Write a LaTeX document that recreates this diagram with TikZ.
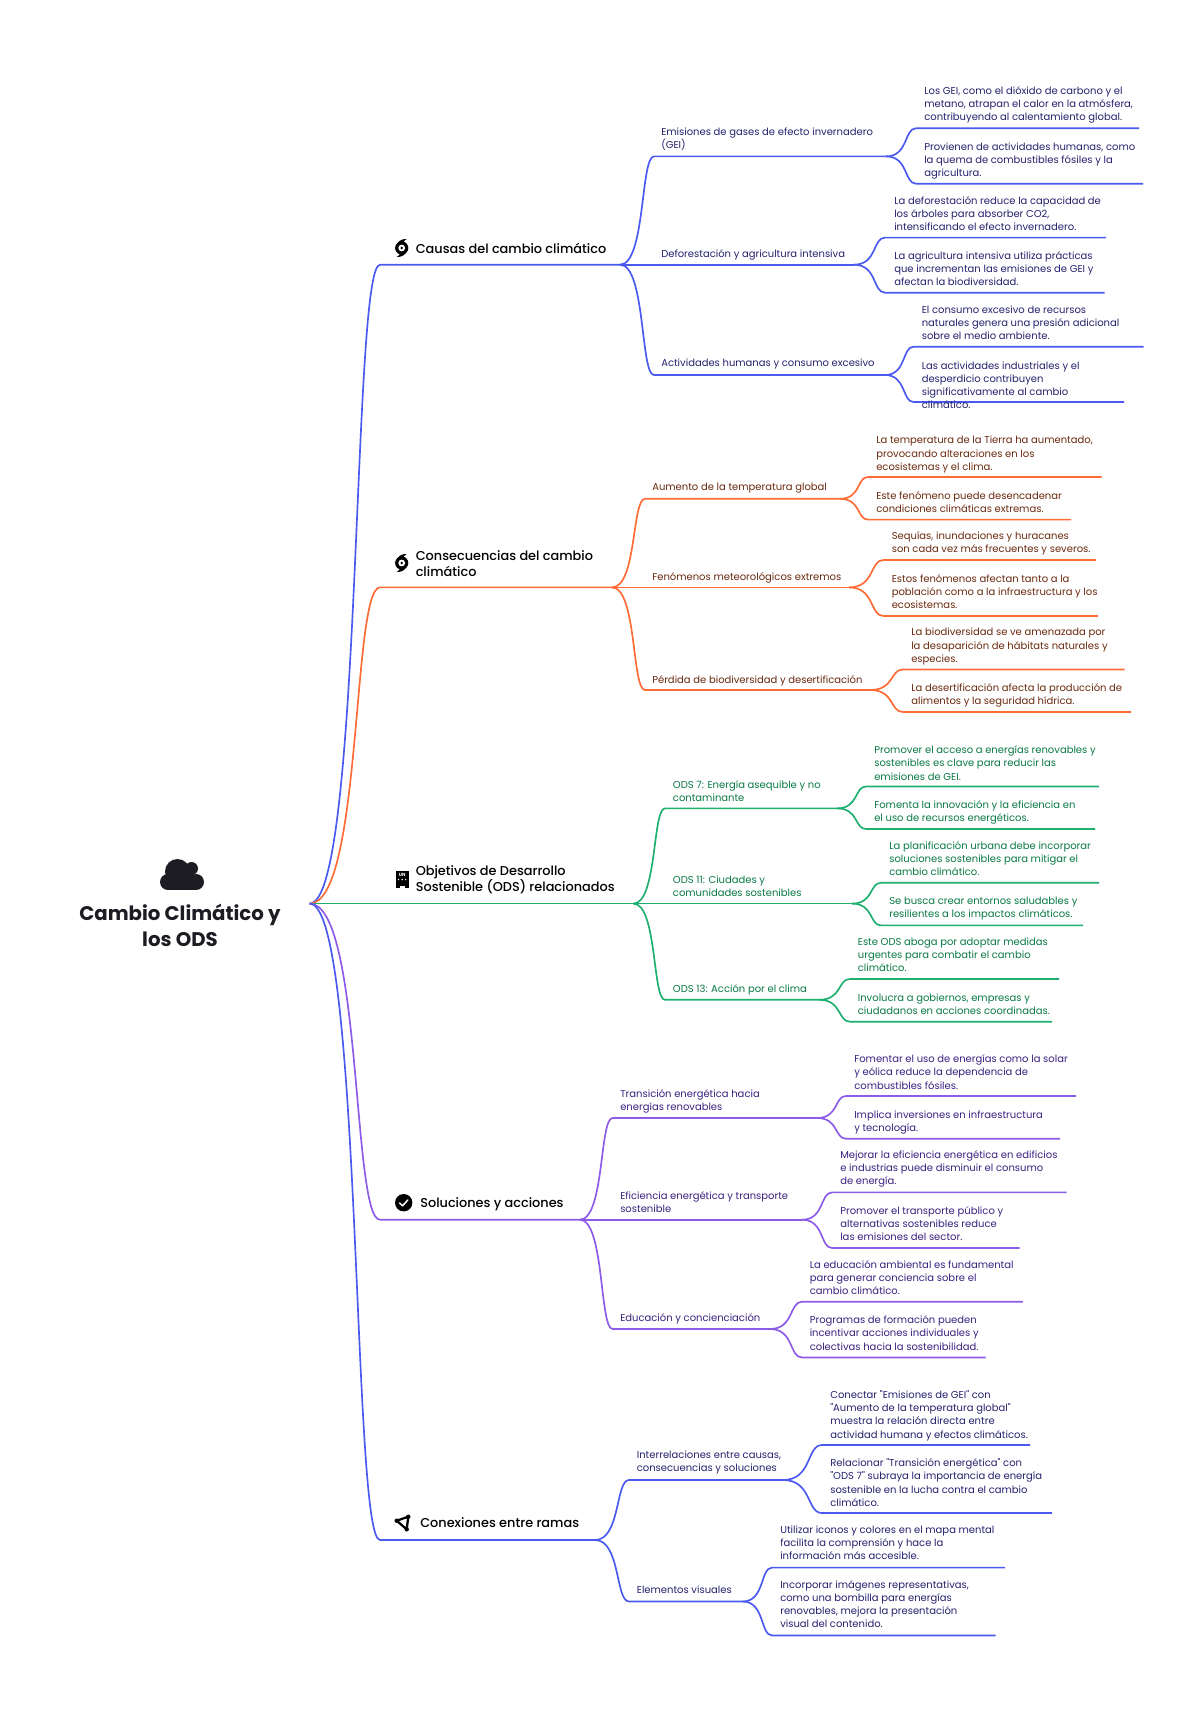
\documentclass[tikz,border=0pt]{standalone}
\usepackage{fontspec}
\usepackage{tikz}
\setmainfont{Poppins}[Ligatures=TeXOff]
\newfontfamily\headfont{Poppins Medium}
\definecolor{bline}{HTML}{4A5AF0}
\definecolor{oline}{HTML}{FF6B35}
\definecolor{gline}{HTML}{1FB070}
\definecolor{pline}{HTML}{8C5CE8}
\definecolor{btext}{HTML}{26226E}
\definecolor{otext}{HTML}{6B2A10}
\definecolor{gtext}{HTML}{0A7A45}
\definecolor{ptext}{HTML}{3A2280}
\definecolor{inkdark}{HTML}{1C1C22}
\usetikzlibrary{calc}
\tikzset{
  limb/.style={to path={.. controls ($(\tikztostart)!0.75!(\tikztotarget |- \tikztostart)$) and ($(\tikztotarget)!0.4!(\tikztostart |- \tikztotarget)$) .. (\tikztotarget)}},
  wire/.style={line width=1.25pt},
  leaf/.style={anchor=west,inner sep=0pt,align=left,font=\fontsize{7.5}{9.85}\selectfont},
  head/.style={anchor=west,inner sep=0pt,align=left,text=black,font=\headfont\fontsize{9.65}{12.3}\selectfont},
  icon/.style={fill=black,draw=none}
}
\newcommand{\hurricane}[1]{
  \begin{scope}[shift={(#1)}]
    \fill[icon] (0,0) circle (6.6);
    \fill[icon] (-4,-5) .. controls (-2,-8) and (1,-9) .. (5,-9) .. controls (2,-7) and (1,-6) .. (3,-3) -- cycle;
    \fill[icon] (4,5) .. controls (2,8) and (-1,9) .. (-5,9) .. controls (-2,7) and (-1,6) .. (-3,3) -- cycle;
    \fill[white] (0,0) circle (3.4);
    \fill[icon] (0,0) circle (1.3);
  \end{scope}
}
\begin{document}
\begin{tikzpicture}[x=0.75pt,y=-0.75pt]
  \useasboundingbox[fill=white] (0,0) rectangle (1200,1715);

  % centre
  \coordinate (root) at (309.6,903.6);
  \fill[inkdark] (177.5,871.5) circle (12.5);
  \fill[inkdark] (191.5,868.5) circle (6.5);
  \fill[inkdark] (168,882) circle (8);
  \fill[inkdark] (196,882) circle (8);
  \fill[inkdark] (168,878) rectangle (196,890);
  \fill[inkdark] (180,870) rectangle (194,882);
  \node[anchor=center,inner sep=0pt,align=center,text=inkdark,font=\fontsize{14.8}{19}\selectfont\bfseries] (title) at (180,925.5) {Cambio Climático y\\los ODS};

  % causas
  \coordinate (cau) at (380,264.7);
  \coordinate (cauOut) at (620,264.7);
  \draw[wire,bline] (root) to[limb] (cau) -- (cauOut);
  \hurricane{401.7,248}
  \node[head] (cauT) at (415.5,248) {Causas del cambio climático};

  \coordinate (emi) at (654,156.4); \coordinate (emiOut) at (886,156.4);
  \draw[wire,bline] (cauOut) to[limb] (emi) -- (emiOut);
  \node[leaf,text=btext] (emiT) at (661,139) {Emisiones de gases de efecto invernadero\\(GEI)};
  \coordinate (emiA) at (916,128.3); \coordinate (emiAe) at (1139,128.3);
  \draw[wire,bline] (emiOut) to[limb] (emiA) -- (emiAe);
  \node[leaf,text=btext] (emiAt) at (924,105) {Los GEI, como el dióxido de carbono y el\\metano, atrapan el calor en la atmósfera,\\contribuyendo al calentamiento global.};
  \coordinate (emiB) at (916,183.7); \coordinate (emiBe) at (1143,183.7);
  \draw[wire,bline] (emiOut) to[limb] (emiB) -- (emiBe);
  \node[leaf,text=btext] (emiBt) at (924,160.7) {Provienen de actividades humanas, como\\la quema de combustibles fósiles y la\\agricultura.};

  \coordinate (def) at (654,264.7); \coordinate (defOut) at (854,264.7);
  \draw[wire,bline] (cauOut) -- (def) -- (defOut);
  \node[leaf,text=btext] (defT) at (661,254.5) {Deforestación y agricultura intensiva};
  \coordinate (defA) at (885,237.6); \coordinate (defAe) at (1106,237.6);
  \draw[wire,bline] (defOut) to[limb] (defA) -- (defAe);
  \node[leaf,text=btext] (defAt) at (894,213.3) {La deforestación reduce la capacidad de\\los árboles para absorber CO2,\\intensificando el efecto invernadero.};
  \coordinate (defB) at (885,292.7); \coordinate (defBe) at (1104.5,292.7);
  \draw[wire,bline] (defOut) to[limb] (defB) -- (defBe);
  \node[leaf,text=btext] (defBt) at (894,269) {La agricultura intensiva utiliza prácticas\\que incrementan las emisiones de GEI y\\afectan la biodiversidad.};

  \coordinate (act) at (654,375); \coordinate (actOut) at (885,375);
  \draw[wire,bline] (cauOut) to[limb] (act) -- (actOut);
  \node[leaf,text=btext] (actT) at (661,364) {Actividades humanas y consumo excesivo};
  \coordinate (actA) at (913.5,346.7); \coordinate (actAe) at (1143.5,346.7);
  \draw[wire,bline] (actOut) to[limb] (actA) -- (actAe);
  \node[leaf,text=btext] (actAt) at (921.5,322.7) {El consumo excesivo de recursos\\naturales genera una presión adicional\\sobre el medio ambiente.};
  \coordinate (actB) at (913.5,402); \coordinate (actBe) at (1124,402);
  \draw[wire,bline] (actOut) to[limb] (actB) -- (actBe);
  \node[leaf,text=btext] (actBt) at (921.5,385) {Las actividades industriales y el\\desperdicio contribuyen\\significativamente al cambio\\climático.};

  % consecuencias
  \coordinate (con) at (380,587.4);
  \coordinate (conOut) at (612,587.4);
  \draw[wire,oline] (root) to[limb] (con) -- (conOut);
  \hurricane{401.7,563}
  \node[head] (conT) at (415.5,563.8) {Consecuencias del cambio\\climático};

  \coordinate (aum) at (645,498.8); \coordinate (aumOut) at (840,498.8);
  \draw[wire,oline] (conOut) to[limb] (aum) -- (aumOut);
  \node[leaf,text=otext] (aumT) at (652,488.5) {Aumento de la temperatura global};
  \coordinate (aumA) at (868,477); \coordinate (aumAe) at (1101.6,477);
  \draw[wire,oline] (aumOut) to[limb] (aumA) -- (aumAe);
  \node[leaf,text=otext] (aumAt) at (876,454.5) {La temperatura de la Tierra ha aumentado,\\provocando alteraciones en los\\ecosistemas y el clima.};
  \coordinate (aumB) at (868,519.6); \coordinate (aumBe) at (1071,519.6);
  \draw[wire,oline] (aumOut) to[limb] (aumB) -- (aumBe);
  \node[leaf,text=otext] (aumBt) at (876,502.5) {Este fenómeno puede desencadenar\\condiciones climáticas extremas.};

  \coordinate (fen) at (645,587.4); \coordinate (fenOut) at (849,587.4);
  \draw[wire,oline] (conOut) -- (fen) -- (fenOut);
  \node[leaf,text=otext] (fenT) at (652,577.5) {Fenómenos meteorológicos extremos};
  \coordinate (fenA) at (883.5,560); \coordinate (fenAe) at (1096,560);
  \draw[wire,oline] (fenOut) to[limb] (fenA) -- (fenAe);
  \node[leaf,text=otext] (fenAt) at (891.5,543) {Sequías, inundaciones y huracanes\\son cada vez más frecuentes y severos.};
  \coordinate (fenB) at (883.5,616); \coordinate (fenBe) at (1098,616);
  \draw[wire,oline] (fenOut) to[limb] (fenB) -- (fenBe);
  \node[leaf,text=otext] (fenBt) at (891.5,591.5) {Estos fenómenos afectan tanto a la\\población como a la infraestructura y los\\ecosistemas.};

  \coordinate (per) at (645,690); \coordinate (perOut) at (870,690);
  \draw[wire,oline] (conOut) to[limb] (per) -- (perOut);
  \node[leaf,text=otext] (perT) at (652,680.5) {Pérdida de biodiversidad y desertificación};
  \coordinate (perA) at (903,669.5); \coordinate (perAe) at (1124.5,669.5);
  \draw[wire,oline] (perOut) to[limb] (perA) -- (perAe);
  \node[leaf,text=otext] (perAt) at (911,646.5) {La biodiversidad se ve amenazada por\\la desaparición de hábitats naturales y\\especies.};
  \coordinate (perB) at (903,712); \coordinate (perBe) at (1131,712);
  \draw[wire,oline] (perOut) to[limb] (perB) -- (perBe);
  \node[leaf,text=otext] (perBt) at (911,695.5) {La desertificación afecta la producción de\\alimentos y la seguridad hídrica.};

  % objetivos
  \coordinate (obj) at (633.4,903.6);
  \draw[wire,gline] (root) -- (obj);
  \fill[icon] (395.6,870.7) rectangle (408.6,885.5);
  \fill[icon] (395.6,885.5) rectangle (399.6,888.3);
  \fill[icon] (404.6,885.5) rectangle (408.6,888.3);
  \node[anchor=center,inner sep=0pt,text=white,font=\fontsize{3.4}{4}\selectfont\bfseries] (objU) at (402.1,875) {UN};
  \foreach \wx in {398.5,402.1,405.7} {\fill[white] (\wx,879.6) circle (0.8);}
  \node[head] (objT) at (415.5,880) {Objetivos de Desarrollo\\Sostenible (ODS) relacionados};

  \coordinate (ods7) at (665,808.4); \coordinate (ods7Out) at (837,808.4);
  \draw[wire,gline] (obj) to[limb] (ods7) -- (ods7Out);
  \node[leaf,text=gtext] (ods7T) at (672.7,791) {ODS 7: Energía asequible y no\\contaminante};
  \coordinate (ods7A) at (866,786.5); \coordinate (ods7Ae) at (1099,786.5);
  \draw[wire,gline] (ods7Out) to[limb] (ods7A) -- (ods7Ae);
  \node[leaf,text=gtext] (ods7At) at (874,763) {Promover el acceso a energías renovables y\\sostenibles es clave para reducir las\\emisiones de GEI.};
  \coordinate (ods7B) at (866,829); \coordinate (ods7Be) at (1095,829);
  \draw[wire,gline] (ods7Out) to[limb] (ods7B) -- (ods7Be);
  \node[leaf,text=gtext] (ods7Bt) at (874,812) {Fomenta la innovación y la eficiencia en\\el uso de recursos energéticos.};

  \coordinate (ods11) at (665,903.6); \coordinate (ods11Out) at (852,903.6);
  \draw[wire,gline] (obj) -- (ods11) -- (ods11Out);
  \node[leaf,text=gtext] (ods11T) at (672.7,886.5) {ODS 11: Ciudades y\\comunidades sostenibles};
  \coordinate (ods11A) at (881,882.8); \coordinate (ods11Ae) at (1099,882.8);
  \draw[wire,gline] (ods11Out) to[limb] (ods11A) -- (ods11Ae);
  \node[leaf,text=gtext] (ods11At) at (889,858.7) {La planificación urbana debe incorporar\\soluciones sostenibles para mitigar el\\cambio climático.};
  \coordinate (ods11B) at (881,925.4); \coordinate (ods11Be) at (1083,925.4);
  \draw[wire,gline] (ods11Out) to[limb] (ods11B) -- (ods11Be);
  \node[leaf,text=gtext] (ods11Bt) at (889,909) {Se busca crear entornos saludables y\\resilientes a los impactos climáticos.};

  \coordinate (ods13) at (665,999.8); \coordinate (ods13Out) at (819,999.8);
  \draw[wire,gline] (obj) to[limb] (ods13) -- (ods13Out);
  \node[leaf,text=gtext] (ods13T) at (672.7,990) {ODS 13: Acción por el clima};
  \coordinate (ods13A) at (850,979); \coordinate (ods13Ae) at (1059,979);
  \draw[wire,gline] (ods13Out) to[limb] (ods13A) -- (ods13Ae);
  \node[leaf,text=gtext] (ods13At) at (857.6,955) {Este ODS aboga por adoptar medidas\\urgentes para combatir el cambio\\climático.};
  \coordinate (ods13B) at (850,1021.7); \coordinate (ods13Be) at (1052,1021.7);
  \draw[wire,gline] (ods13Out) to[limb] (ods13B) -- (ods13Be);
  \node[leaf,text=gtext] (ods13Bt) at (857.6,1004) {Involucra a gobiernos, empresas y\\ciudadanos en acciones coordinadas.};

  % soluciones
  \coordinate (sol) at (380,1219.7);
  \coordinate (solOut) at (579.8,1219.7);
  \draw[wire,pline] (root) to[limb] (sol) -- (solOut);
  \fill[icon] (403.7,1202.7) circle (8.7);
  \draw[white,line width=1.1pt,line cap=round,line join=round] (399.6,1203) -- (402.6,1205.8) -- (407.8,1200);
  \node[head] (solT) at (420,1203.7) {Soluciones y acciones};

  \coordinate (tra) at (612.6,1118); \coordinate (traOut) at (817,1118);
  \draw[wire,pline] (solOut) to[limb] (tra) -- (traOut);
  \node[leaf,text=ptext] (traT) at (620,1101.7) {Transición energética hacia\\energías renovables};
  \coordinate (traA) at (846,1096); \coordinate (traAe) at (1076,1096);
  \draw[wire,pline] (traOut) to[limb] (traA) -- (traAe);
  \node[leaf,text=ptext] (traAt) at (854,1072) {Fomentar el uso de energías como la solar\\y eólica reduce la dependencia de\\combustibles fósiles.};
  \coordinate (traB) at (846,1138.7); \coordinate (traBe) at (1060,1138.7);
  \draw[wire,pline] (traOut) to[limb] (traB) -- (traBe);
  \node[leaf,text=ptext] (traBt) at (854,1122.5) {Implica inversiones en infraestructura\\y tecnología.};

  \coordinate (efi) at (612.6,1219.7); \coordinate (efiOut) at (802,1219.7);
  \draw[wire,pline] (solOut) -- (efi) -- (efiOut);
  \node[leaf,text=ptext] (efiT) at (620,1202.5) {Eficiencia energética y transporte\\sostenible};
  \coordinate (efiA) at (832,1192.4); \coordinate (efiAe) at (1066.6,1192.4);
  \draw[wire,pline] (efiOut) to[limb] (efiA) -- (efiAe);
  \node[leaf,text=ptext] (efiAt) at (840,1169.2) {Mejorar la eficiencia energética en edificios\\e industrias puede disminuir el consumo\\de energía.};
  \coordinate (efiB) at (832,1248); \coordinate (efiBe) at (1019.5,1248);
  \draw[wire,pline] (efiOut) to[limb] (efiB) -- (efiBe);
  \node[leaf,text=ptext] (efiBt) at (840,1223.5) {Promover el transporte público y\\alternativas sostenibles reduce\\las emisiones del sector.};

  \coordinate (edu) at (612.6,1329); \coordinate (eduOut) at (770,1329);
  \draw[wire,pline] (solOut) to[limb] (edu) -- (eduOut);
  \node[leaf,text=ptext] (eduT) at (620,1318.5) {Educación y concienciación};
  \coordinate (eduA) at (802,1301.7); \coordinate (eduAe) at (1022.8,1301.7);
  \draw[wire,pline] (eduOut) to[limb] (eduA) -- (eduAe);
  \node[leaf,text=ptext] (eduAt) at (809.5,1277.7) {La educación ambiental es fundamental\\para generar conciencia sobre el\\cambio climático.};
  \coordinate (eduB) at (802,1357.5); \coordinate (eduBe) at (985.6,1357.5);
  \draw[wire,pline] (eduOut) to[limb] (eduB) -- (eduBe);
  \node[leaf,text=ptext] (eduBt) at (809.5,1333) {Programas de formación pueden\\incentivar acciones individuales y\\colectivas hacia la sostenibilidad.};

  % conexiones
  \coordinate (cnx) at (380,1540);
  \coordinate (cnxOut) at (595,1540);
  \draw[wire,bline] (root) to[limb] (cnx) -- (cnxOut);
  \draw[line width=1.7pt,line join=round] (408.3,1516.7) -- (396.7,1520.7) -- (406.7,1529.3) -- cycle;
  \fill[icon] (408.3,1516.7) circle (2.2);
  \fill[icon] (396.7,1520.7) circle (2.2);
  \fill[icon] (406.7,1529.3) circle (2.2);
  \node[head] (cnxT) at (420,1523) {Conexiones entre ramas};

  \coordinate (int) at (629,1480); \coordinate (intOut) at (783,1480);
  \draw[wire,bline] (cnxOut) to[limb] (int) -- (intOut);
  \node[leaf,text=btext] (intT) at (636.6,1462.7) {Interrelaciones entre causas,\\consecuencias y soluciones};
  \coordinate (intA) at (822,1445); \coordinate (intAe) at (1030,1445);
  \draw[wire,bline] (intOut) to[limb] (intA) -- (intAe);
  \node[leaf,text=btext] (intAt) at (830,1415.7) {Conectar "Emisiones de GEI" con\\"Aumento de la temperatura global"\\muestra la relación directa entre\\actividad humana y efectos climáticos.};
  \coordinate (intB) at (822,1513); \coordinate (intBe) at (1052,1513);
  \draw[wire,bline] (intOut) to[limb] (intB) -- (intBe);
  \node[leaf,text=btext] (intBt) at (830,1482.5) {Relacionar "Transición energética" con\\"ODS 7" subraya la importancia de energía\\sostenible en la lucha contra el cambio\\climático.};

  \coordinate (vis) at (629,1601.5); \coordinate (visOut) at (742.8,1601.5);
  \draw[wire,bline] (cnxOut) to[limb] (vis) -- (visOut);
  \node[leaf,text=btext] (visT) at (636.6,1590) {Elementos visuales};
  \coordinate (visA) at (772,1567.6); \coordinate (visAe) at (1005,1567.6);
  \draw[wire,bline] (visOut) to[limb] (visA) -- (visAe);
  \node[leaf,text=btext] (visAt) at (780,1542.5) {Utilizar iconos y colores en el mapa mental\\facilita la comprensión y hace la\\información más accesible.};
  \coordinate (visB) at (772,1635.4); \coordinate (visBe) at (995.5,1635.4);
  \draw[wire,bline] (visOut) to[limb] (visB) -- (visBe);
  \node[leaf,text=btext] (visBt) at (780,1604) {Incorporar imágenes representativas,\\como una bombilla para energías\\renovables, mejora la presentación\\visual del contenido.};
\end{tikzpicture}
\end{document}
